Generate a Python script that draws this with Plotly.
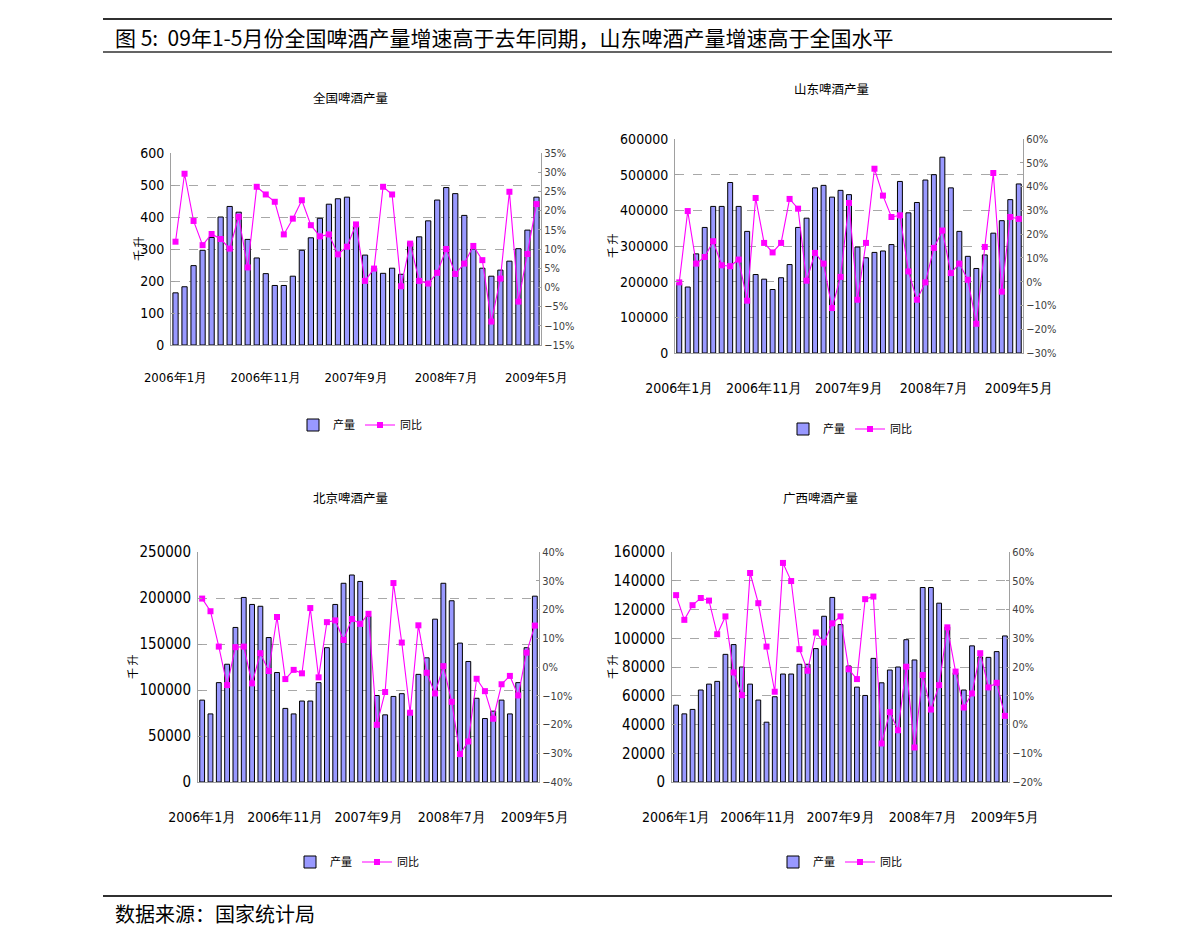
import plotly.graph_objects as go

months = [f"{y}年{m}月" for y in (2006, 2007, 2008, 2009) for m in range(1, 13)][:41]
tick_labels = ["2006年1月", "2006年11月", "2007年9月", "2008年7月", "2009年5月"]

titles = ["全国啤酒产量", "山东啤酒产量", "北京啤酒产量", "广西啤酒产量"]

national_output = [163, 182, 248, 296, 336, 400, 433, 415, 330, 272, 223, 186, 186, 215, 296, 335,
                   396, 440, 457, 462, 372, 281, 240, 224, 240, 221, 320, 338, 388, 453, 492, 473,
                   405, 300, 240, 215, 234, 262, 301, 359, 462]
national_yoy = [11.9, 29.6, 17.3, 11.0, 13.9, 12.6, 10.1, 18.4, 5.2, 26.2, 24.2, 22.3, 13.8, 17.9,
                22.7, 16.2, 13.3, 13.8, 8.6, 10.6, 16.4, 1.7, 4.9, 26.2, 24.2, 0.3, 11.4, 1.7, 1.0,
                3.8, 10.0, 3.5, 6.2, 10.8, 7.1, -8.9, 2.3, 24.9, -3.7, 8.7, 21.7]

shandong_output = [195000, 185000, 278000, 352000, 411000, 411000, 478000, 411000, 341000, 220000,
                   207000, 178000, 211000, 248000, 352000, 378000, 463000, 470000, 437000, 456000,
                   444000, 297000, 267000, 282000, 286000, 304000, 481000, 393000, 422000, 485000,
                   500000, 549000, 463000, 341000, 271000, 237000, 275000, 336000, 371000, 430000,
                   474000]
shandong_yoy = [-0.3, 29.7, 7.6, 10.4, 17.0, 6.9, 6.5, 9.3, -8.0, 35.2, 16.3, 12.3, 16.3, 34.8,
                30.7, 0.4, 12.1, 7.6, -11.1, 2.0, 33.1, -7.6, 16.3, 47.5, 36.2, 27.2, 27.9, 4.3,
                -7.6, -0.3, 14.2, 21.5, 3.6, 7.6, 0.8, -17.7, 14.6, 45.7, -4.2, 27.2, 26.4]

beijing_output = [89000, 74000, 108000, 128000, 168000, 200600, 193000, 191000, 157000, 119000,
                  80000, 74000, 88000, 88000, 108000, 146000, 193000, 216000, 225000, 218000,
                  180000, 94000, 73000, 93000, 96000, 77000, 117000, 135000, 177000, 216000,
                  197000, 151000, 131000, 91000, 69000, 77000, 89000, 74000, 108000, 146000,
                  202000]
beijing_yoy = [23.8, 19.4, 7.1, -6.3, 6.9, 7.1, -5.7, 4.8, -1.4, 17.4, -4.2, -1.0, -2.2, 20.5,
               -3.6, 15.6, 16.2, 9.4, 16.7, 15.0, 18.5, -20.1, -8.7, 29.2, 8.5, -15.9, 14.5, -2.0,
               -9.2, 0.3, -12.1, -30.3, -25.9, -4.1, -8.4, -18.0, -6.0, -3.1, -9.9, 5.0, 14.4]

guangxi_output = [53500, 47400, 50500, 64000, 68100, 70000, 88800, 95600, 80000, 68100, 57000,
                  41600, 59300, 75100, 75100, 81900, 81900, 92800, 115300, 128400, 109500, 80700,
                  66000, 60200, 86000, 69000, 77900, 80000, 99000, 84900, 135300, 135300, 124400,
                  108000, 76000, 64000, 94700, 87000, 86700, 90700, 101600]
guangxi_yoy = [45.0, 36.4, 41.5, 44.0, 43.1, 31.4, 37.6, 18.1, 10.2, 52.7, 42.2, 27.1, 11.4, 56.2,
               49.9, 26.2, 18.7, 32.0, 28.5, 35.2, 37.6, 19.2, 15.8, 43.6, 44.5, -6.6, 4.3, -2.0,
               20.1, -8.0, 17.2, 5.2, 13.7, 33.8, 18.4, 5.9, 10.8, 24.8, 12.9, 14.5, 3.0]

outputs = [national_output, shandong_output, beijing_output, guangxi_output]
yoys = [national_yoy, shandong_yoy, beijing_yoy, guangxi_yoy]

left_ranges = [(0, 600, 100), (0, 600000, 100000), (0, 250000, 50000), (0, 160000, 20000)]
right_ranges = [(-15, 35, 5), (-30, 60, 10), (-40, 40, 10), (-20, 60, 10)]

W, H = 1191, 944
OFF = 8  # page body margin offset


def px(x):
    return (x - OFF) / W


def py(y):
    return 1 - (y - OFF) / H


# plot-area boxes in pixels (left, right, top, bottom)
boxes = [(171, 541, 153, 345), (675, 1023, 139, 353), (198, 539, 552, 782), (672, 1009, 552, 782)]
title_pos = [(350, 97), (831, 88), (350, 497), (820, 497)]
title_size = [12.5, 12.5, 12.5, 12.5]
ytitle_x = [138, 612, 132, 612]
legend_pos = [(360, 425), (850, 429), (357, 862), (840, 862)]
left_font = [14, 14, 15, 15]
x_font = [13, 14, 14, 14]
x_standoff = [20, 22, 22, 22]

BAR_COLOR = "#9999FF"
LINE_COLOR = "#FF00FF"
NUM_FONT = "Liberation Sans Narrow, DejaVu Sans Condensed, Liberation Sans, sans-serif"
CJK_FONT = "Noto Sans CJK SC, sans-serif"

fig = go.Figure()
layout = dict(
    width=W, height=H, margin=dict(l=0, r=0, t=0, b=0, autoexpand=False),
    paper_bgcolor="white", plot_bgcolor="white",
    bargap=0.42, showlegend=True,
    font=dict(family=CJK_FONT, color="#000000"),
)
annotations = []
shapes = []

for i in range(4):
    n = i + 1
    xa = "x" if n == 1 else f"x{n}"
    ya = "y" if n == 1 else f"y{n}"
    yr = f"y{n + 4}"
    leg = "legend" if n == 1 else f"legend{n}"
    l, r, t, b = boxes[i]
    fig.add_trace(go.Bar(
        x=months, y=outputs[i], name="产量", xaxis=xa, yaxis=ya, legend=leg,
        marker=dict(color=BAR_COLOR, line=dict(color="#000000", width=1)),
    ))
    fig.add_trace(go.Scatter(
        x=months, y=yoys[i], name="同比", xaxis=xa, yaxis=yr, legend=leg,
        mode="lines+markers",
        line=dict(color=LINE_COLOR, width=1.1),
        marker=dict(symbol="square", size=6, color=LINE_COLOR),
    ))
    dom_x = [px(l), px(r)]
    dom_y = [py(b), py(t)]
    lo, hi, dt = left_ranges[i]
    rlo, rhi, rdt = right_ranges[i]
    xkey = "xaxis" if n == 1 else f"xaxis{n}"
    ykey = "yaxis" if n == 1 else f"yaxis{n}"
    layout[xkey] = dict(
        domain=dom_x, anchor=ya, type="category", categoryorder="array", categoryarray=months,
        range=[-0.5, 40.5], tickmode="array", tickvals=tick_labels, ticktext=tick_labels,
        showline=True, linecolor="#A0A0A0", linewidth=1, ticks="", showgrid=False,
        tickfont=dict(family=NUM_FONT, size=x_font[i], color="#000000"),
        ticklabelstandoff=x_standoff[i], tickangle=0, automargin=False,
    )
    layout[ykey] = dict(
        domain=dom_y, anchor=xa, range=[lo, hi], dtick=dt, tick0=0,
        showline=True, linecolor="#A0A0A0", linewidth=1,
        ticks="inside", ticklen=4, tickcolor="#A0A0A0",
        showgrid=True, gridcolor="#A8A8A8", griddash="dash", gridwidth=1,
        zeroline=False, tickformat="d", automargin=False,
        tickfont=dict(family=NUM_FONT, size=left_font[i], color="#000000"), ticklabelstandoff=3,
    )
    layout[f"yaxis{n + 4}"] = dict(
        overlaying=ya, anchor=xa, side="right", range=[rlo, rhi], dtick=rdt, tick0=0,
        showline=True, linecolor="#A0A0A0", linewidth=1, ticks="inside", ticklen=3,
        tickcolor="#A0A0A0", showgrid=False, zeroline=False, ticksuffix="%", automargin=False,
        tickfont=dict(family=NUM_FONT, size=11, color="#404040"),
    )
    lx, ly = legend_pos[i]
    layout[leg] = dict(
        orientation="h", x=px(lx), y=py(ly), xanchor="center", yanchor="middle",
        font=dict(family=CJK_FONT, size=11, color="#000000"), bgcolor="rgba(0,0,0,0)",
        tracegroupgap=0, traceorder="normal",
    )
    tx, ty = title_pos[i]
    annotations.append(dict(
        text=titles[i], x=px(tx), y=py(ty), xref="paper", yref="paper",
        showarrow=False, xanchor="center", yanchor="middle",
        font=dict(family=CJK_FONT, size=title_size[i], color="#000000"),
    ))
    annotations.append(dict(
        text="千 升", x=px(ytitle_x[i]), y=(dom_y[0] + dom_y[1]) / 2, xref="paper", yref="paper",
        showarrow=False, xanchor="center", yanchor="middle", textangle=-90,
        font=dict(family=CJK_FONT, size=11, color="#000000"),
    ))

annotations.append(dict(
    text="图 5:  09年1-5月份全国啤酒产量增速高于去年同期，山东啤酒产量增速高于全国水平",
    x=px(113), y=py(37), xref="paper", yref="paper", showarrow=False,
    xanchor="left", yanchor="middle", font=dict(family=CJK_FONT, size=21, color="#000000"),
))
annotations.append(dict(
    text="数据来源：国家统计局", x=px(113), y=py(913), xref="paper", yref="paper",
    showarrow=False, xanchor="left", yanchor="middle",
    font=dict(family=CJK_FONT, size=20, color="#000000"),
))
for yy, wd in ((19, 2), (52, 1.5), (896, 2)):
    shapes.append(dict(type="line", xref="paper", yref="paper", x0=px(103), x1=px(1112),
                       y0=py(yy), y1=py(yy), line=dict(color="#303030", width=wd)))

layout["annotations"] = annotations
layout["shapes"] = shapes
fig.update_layout(**layout)
fig.write_html("out.html")
